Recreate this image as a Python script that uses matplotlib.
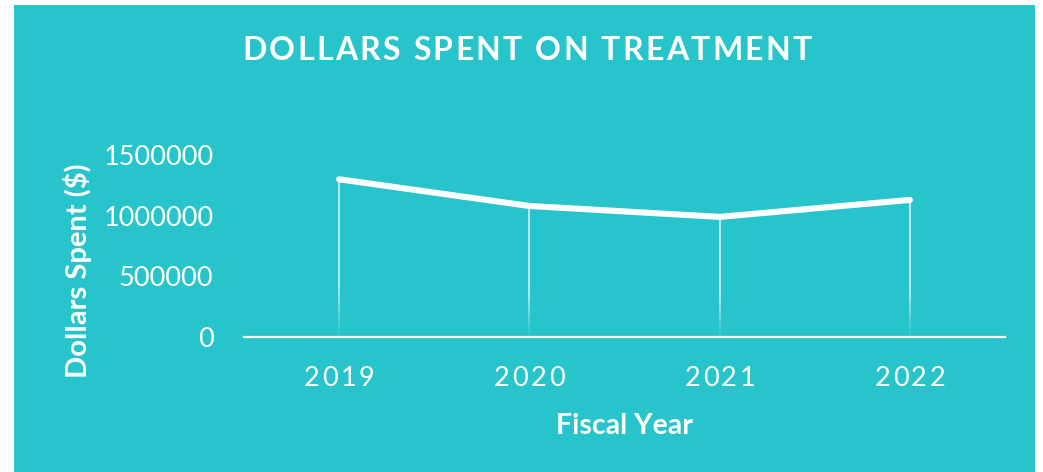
import numpy as np
import matplotlib
matplotlib.use("Agg")
import matplotlib.pyplot as plt
from matplotlib.collections import LineCollection
from matplotlib.font_manager import FontProperties
from matplotlib.patches import Rectangle
from matplotlib.transforms import IdentityTransform

# Data
years = ["2019", "2020", "2021", "2022"]
spent = [1300000, 1080000, 990000, 1130000]
yticks = [0, 500000, 1000000, 1500000]

title = "DOLLARS SPENT ON TREATMENT"
xlabel = "Fiscal Year"
ylabel = "Dollars Spent ($)"

teal = "#28C4CB"
font = "Lato"
W, H, DPI = 1043, 472, 100

fig = plt.figure(figsize=(W / DPI, H / DPI), dpi=DPI, facecolor="white")
fig.patches.append(Rectangle((14 / W, 0), (1035 - 14) / W, (H - 5) / H,
                             transform=fig.transFigure, facecolor=teal,
                             edgecolor="none", zorder=-1))

ax = fig.add_axes([244 / W, 1 - 337 / H, (1005 - 244) / W, (337 - 155) / H])
ax.set_facecolor("none")
for s in ax.spines.values():
    s.set_visible(False)

x = np.arange(len(years))
ax.set_xlim(-0.5, len(years) - 0.5)
ax.set_ylim(0, 1500000)
ax.axhline(0, color="white", lw=1.6, zorder=2, clip_on=False)

# drop lines, fading out towards the baseline
n = 60
for xi, v in zip(x, spent):
    ys = np.linspace(0, v, n + 1)
    segs = [[(xi, ys[i]), (xi, ys[i + 1])] for i in range(n)]
    frac = (ys[:-1] + ys[1:]) / 2 / v
    alphas = np.clip(frac / 0.35, 0, 1) * 0.85
    cols = [(1, 1, 1, a) for a in alphas]
    ax.add_collection(LineCollection(segs, colors=cols, linewidths=1.1, zorder=3))

ax.plot(x, spent, color="white", lw=4.4, solid_capstyle="round",
        solid_joinstyle="round", zorder=4)

ax.set_yticks(yticks)
ax.set_yticklabels([str(t) for t in yticks], fontfamily=font, fontsize=19.5,
                   color="white")
ax.tick_params(axis="y", length=0, pad=22)
ax.set_xticks(x)
ax.set_xticklabels([])
ax.tick_params(axis="x", length=0)

renderer = fig.canvas.get_renderer()


def spaced_text(s, cx, cy, spacing, prop):
    # draw s centred at display (cx, cy) with extra tracking between letters
    def width(t):
        return renderer.get_text_width_height_descent(t + "x", prop, ismath=False)[0] - \
            renderer.get_text_width_height_descent("x", prop, ismath=False)[0]
    total = width(s) + spacing * (len(s) - 1)
    x0 = cx - total / 2
    for i, ch in enumerate(s):
        if ch == " ":
            continue
        fig.text(x0 + width(s[:i]) + spacing * i, cy, ch, fontproperties=prop,
                 color="white", ha="left", va="center", transform=IdentityTransform())


title_prop = FontProperties(family=font, weight="bold", size=23)
spaced_text(title, 527, H - 50, 2.4, title_prop)

tick_prop = FontProperties(family=font, size=19.5)
for xi, lab in zip(x, years):
    px = ax.transData.transform((xi, 0))[0]
    spaced_text(lab, px, H - 378, 2.6, tick_prop)

fig.text(624 / W, 1 - 426 / H, xlabel, fontfamily=font, fontweight="bold",
         fontsize=20.5, color="white", ha="center", va="center")
fig.text(77 / W, 1 - 271 / H, ylabel, fontfamily=font, fontweight="bold",
         fontsize=21, color="white", ha="center", va="center", rotation=90)

fig.savefig("out.png", dpi=DPI, facecolor="white")
